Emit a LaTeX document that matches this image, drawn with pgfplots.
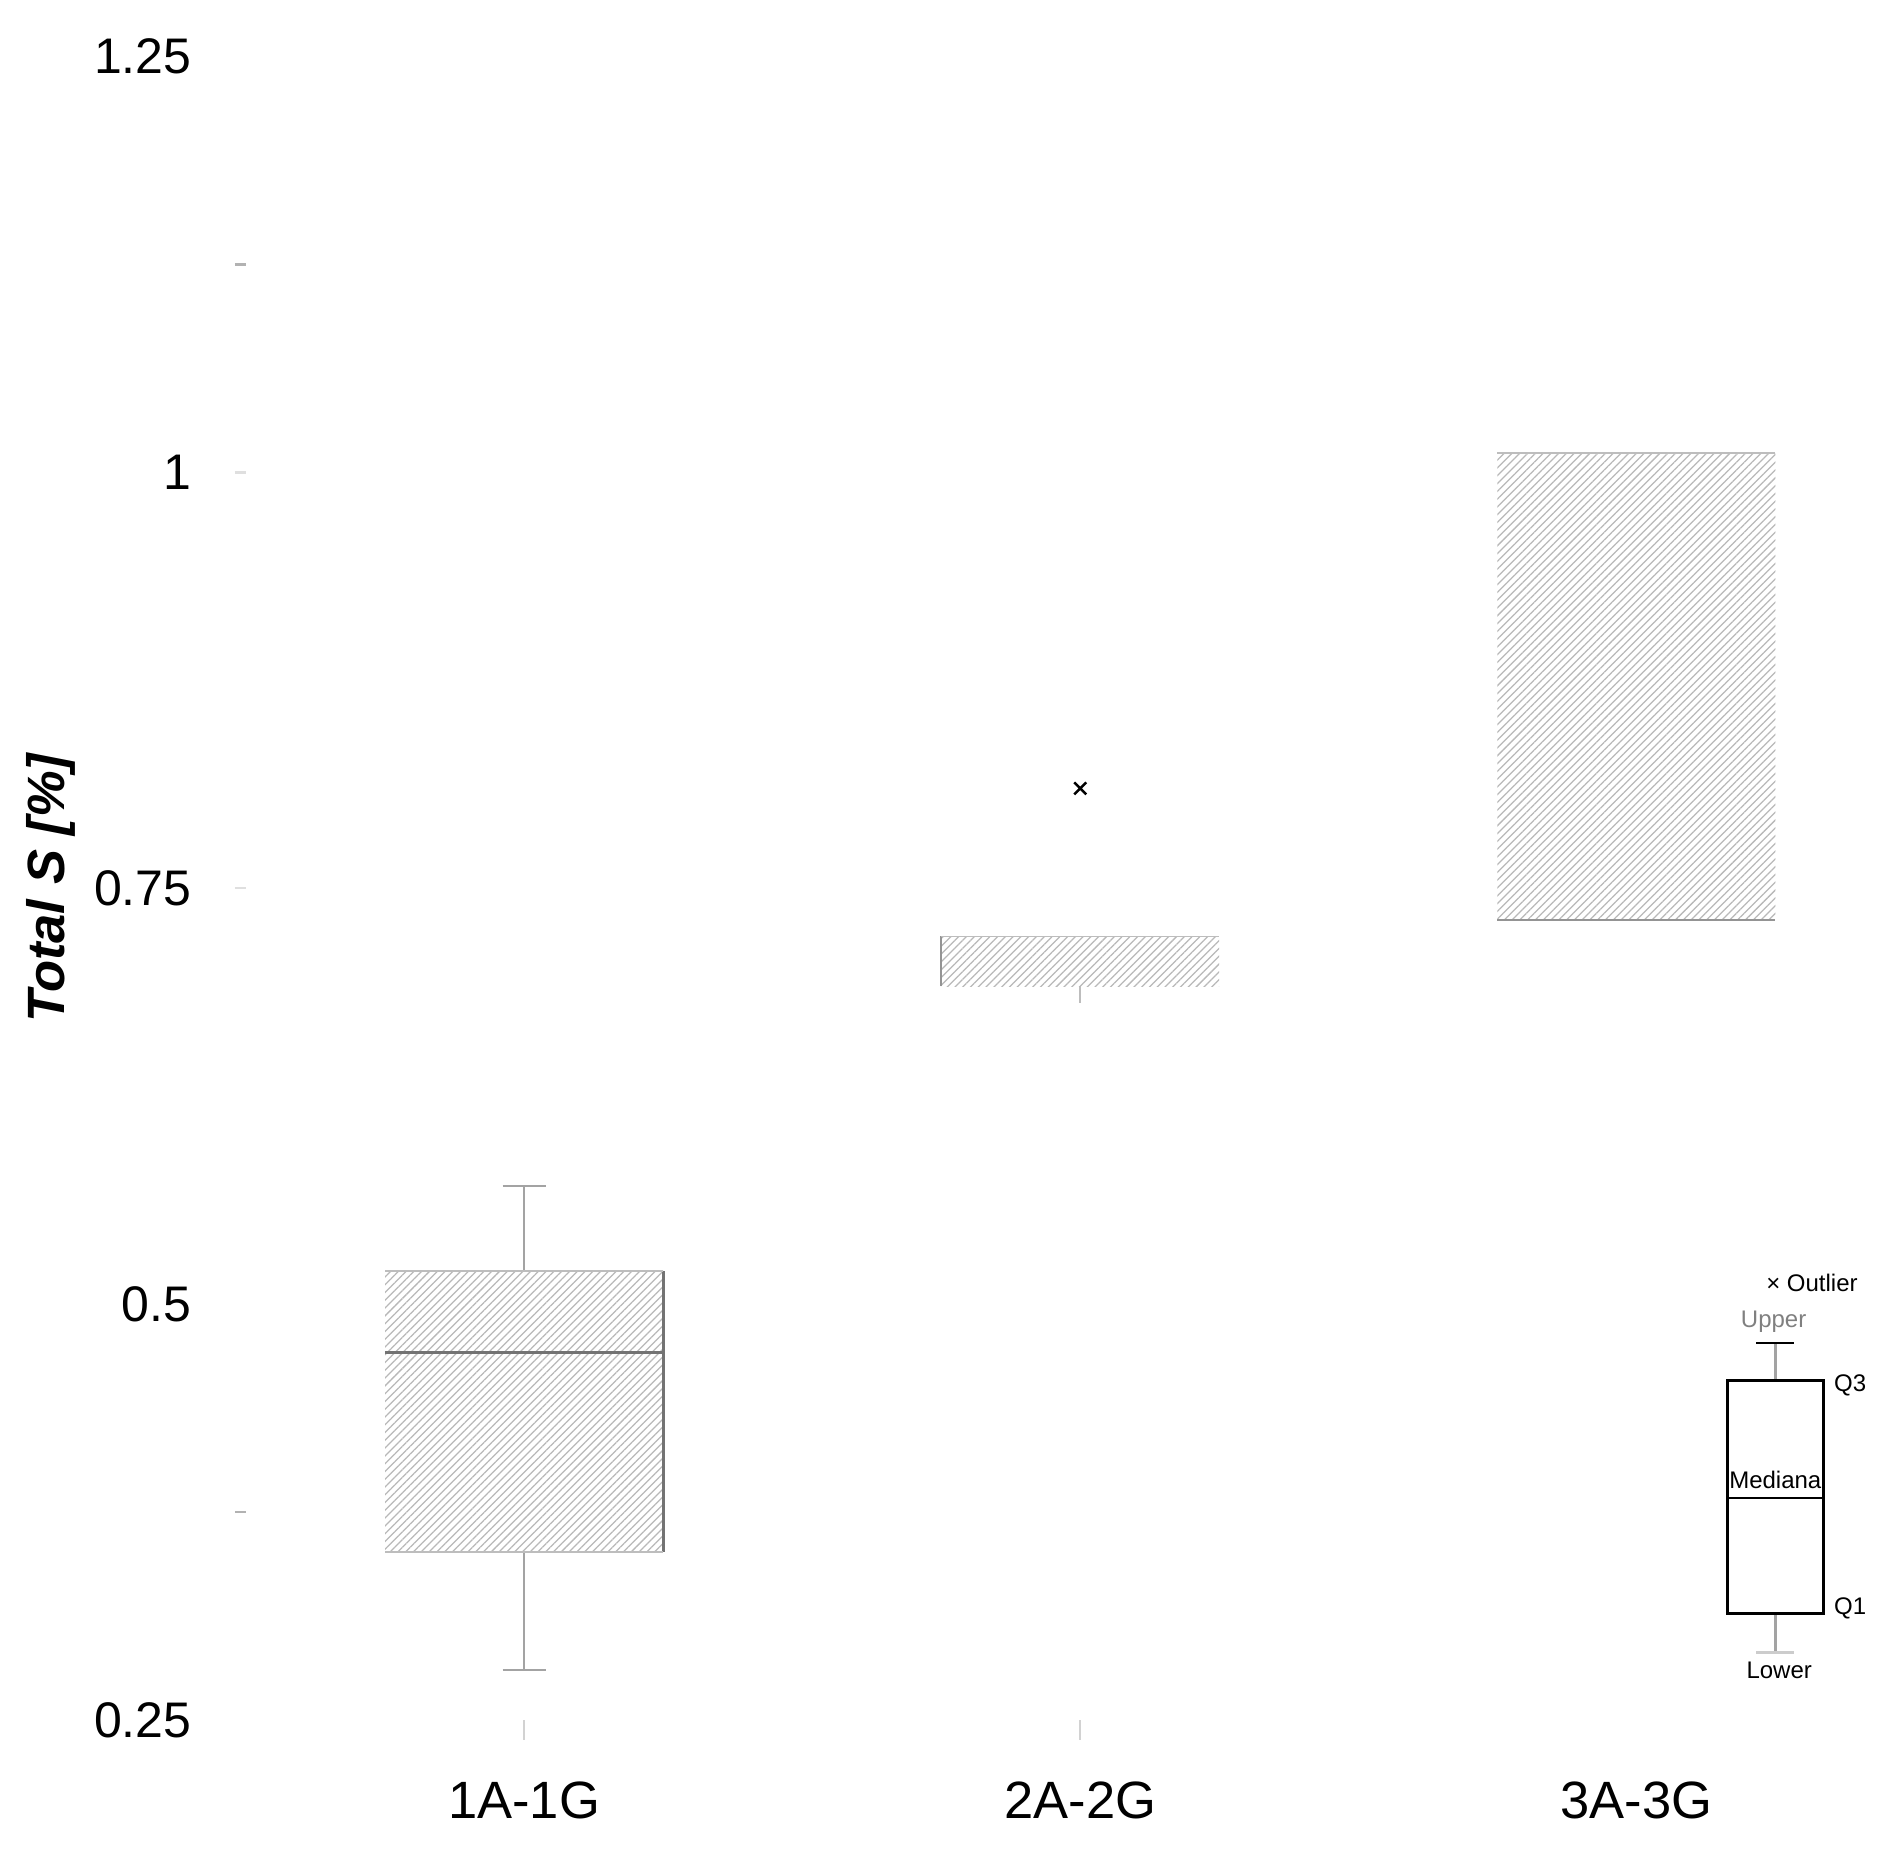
\documentclass[border=0pt]{standalone}
\usepackage{fontspec}
\setmainfont{Liberation Sans}
\usepackage{pgfplots}
\pgfplotsset{compat=1.18}
\usepgfplotslibrary{statistics}
\usetikzlibrary{patterns.meta}

\definecolor{whisk}{gray}{0.64}
\definecolor{edgedark}{gray}{0.45}
\definecolor{edgemid}{gray}{0.58}
\definecolor{edgelight}{gray}{0.74}

\tikzset{hatched/.style={draw=none, pattern={Lines[angle=45,distance=1.1pt,line width=0.25pt]}, pattern color=black!28}}

\begin{document}
\begin{tikzpicture}
\begin{axis}[
  name=ax,
  scale only axis,
  width=329.2pt, height=332.7pt,
  xmin=0.49, xmax=3.45,
  ymin=0.25, ymax=1.25,
  clip=false,
  axis line style={draw=none},
  tick pos=left,
  tick align=center,
  xtick={1,2,3},
  xticklabels={1A-1G,2A-2G,3A-3G},
  ytick={0.25,0.5,0.75,1,1.25},
  major tick length=0pt,
  minor ytick={0.375,1.125},
  minor tick length=2.2pt,
  minor tick style={gray!60, line width=0.5pt},
  extra y ticks={0.75,1},
  extra y tick labels={},
  extra y tick style={major tick length=2.2pt, tick style={gray!25, line width=0.5pt}},
  extra x ticks={1,2},
  extra x tick labels={},
  extra x tick style={major tick length=4pt, tick align=outside, tick style={gray!35, line width=0.5pt}},
  /pgf/number format/assume math mode=true,
  yticklabel style={font=\fontsize{10}{12}\selectfont, anchor=east, inner sep=0pt, xshift=-9.6pt},
  xticklabel style={font=\fontsize{10.5}{12}\selectfont, anchor=center, yshift=-16pt},
  boxplot/draw direction=y,
]

% 1A-1G
\addplot[boxplot prepared={draw position=1, lower whisker=0.280, lower quartile=0.351,
    median=0.471, upper quartile=0.520, upper whisker=0.571,
    box extend=0.5, whisker extend=0.077, draw direction=y,
    every box/.style={hatched},
    every median/.style={draw=edgedark, line width=0.5pt},
    every whisker/.style={draw=whisk, line width=0.45pt}}]
  coordinates {};
\addplot[edgedark, line width=0.55pt] coordinates {(1.25,0.351) (1.25,0.520)};
\addplot[edgelight, line width=0.35pt] coordinates {(0.75,0.520) (1.25,0.520)};
\addplot[edgelight, line width=0.35pt] coordinates {(0.75,0.351) (1.25,0.351)};

% 2A-2G
\addplot[boxplot prepared={draw position=2, lower whisker=0.681, lower quartile=0.691,
    median=0.721, upper quartile=0.721, upper whisker=0.721,
    box extend=0.5, whisker extend=0, draw direction=y,
    every box/.style={hatched},
    every median/.style={draw=none},
    every whisker/.style={draw=edgelight, line width=0.35pt}}]
  coordinates {};
\addplot[edgemid, line width=0.5pt] coordinates {(1.75,0.691) (1.75,0.721)};
\addplot[edgelight, line width=0.35pt] coordinates {(1.75,0.721) (2.25,0.721)};
\addplot[only marks, mark=x, mark size=1.7pt, black, line width=0.5pt] coordinates {(2,0.810)};

% 3A-3G
\addplot[boxplot prepared={draw position=3, lower whisker=0.731, lower quartile=0.731,
    median=0.87, upper quartile=1.0115, upper whisker=1.0115,
    box extend=0.5, whisker extend=0, draw direction=y,
    every box/.style={hatched},
    every median/.style={draw=none},
    every whisker/.style={draw=none}}]
  coordinates {};
\addplot[edgelight, line width=0.5pt] coordinates {(2.75,1.0115) (3.25,1.0115)};
\addplot[edgemid, line width=0.5pt] coordinates {(2.75,0.731) (3.25,0.731)};

% key in the lower right corner
\addplot[boxplot prepared={draw position=3.25, lower whisker=0.2905, lower quartile=0.3143,
    median=0.3835, upper quartile=0.4538, upper whisker=0.4766,
    box extend=0.173, whisker extend=0, draw direction=y,
    every box/.style={draw=black, fill=white, line width=0.6pt},
    every median/.style={draw=black, line width=0.5pt},
    every whisker/.style={draw=whisk, line width=0.5pt}}]
  coordinates {};
\addplot[black, line width=0.5pt] coordinates {(3.216,0.4766) (3.284,0.4766)};
\addplot[gray!40, line width=0.6pt] coordinates {(3.216,0.2905) (3.284,0.2905)};

\node[font=\fontsize{4.8}{5}\selectfont, anchor=west, inner sep=0pt] at (axis cs:3.232,0.5125) {× Outlier};
\node[font=\fontsize{4.8}{5}\selectfont, text=gray, inner sep=0pt] at (axis cs:3.247,0.4894) {Upper};
\node[font=\fontsize{4.8}{5}\selectfont, anchor=west, inner sep=0pt] at (axis cs:3.354,0.451) {Q3};
\node[font=\fontsize{4.8}{5}\selectfont, inner sep=0pt] at (axis cs:3.25,0.3943) {Mediana};
\node[font=\fontsize{4.8}{5}\selectfont, anchor=west, inner sep=0pt] at (axis cs:3.354,0.3173) {Q1};
\node[font=\fontsize{4.8}{5}\selectfont, inner sep=0pt] at (axis cs:3.257,0.2796) {Lower};

\end{axis}
\node[rotate=90, font=\fontsize{10.5}{12}\selectfont\bfseries\itshape] at ([xshift=-38pt]ax.west) {Total S [\%]};
\pgfresetboundingbox
\path ([shift={(-48.1pt,-30.4pt)}]ax.south west) rectangle ([shift={(329.1pt,344pt)}]ax.south west);
\end{tikzpicture}
\end{document}
